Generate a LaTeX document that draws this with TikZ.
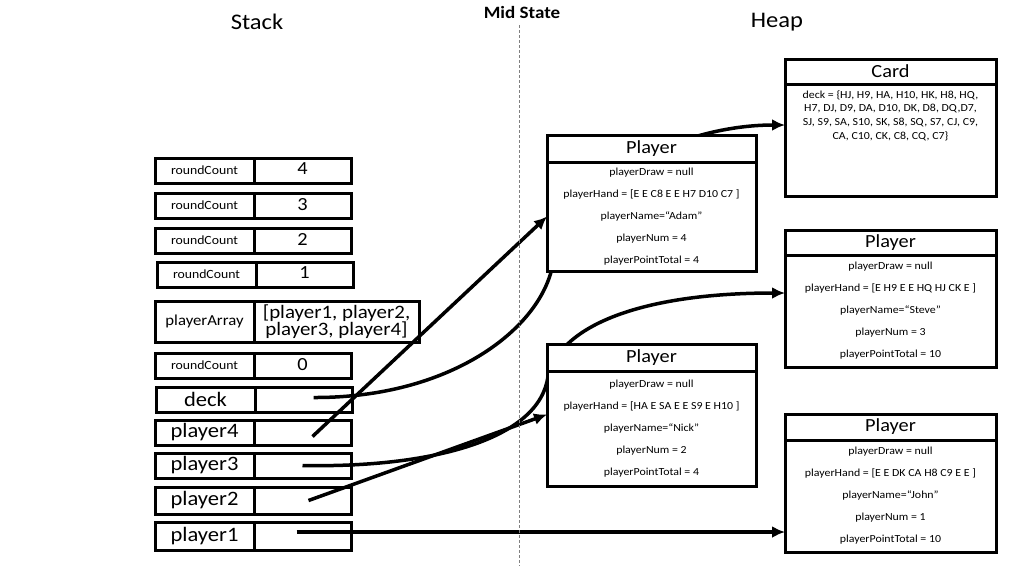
\documentclass[tikz,border=0pt]{standalone}
\usepackage{fontspec}
\setmainfont{Carlito}[FakeStretch=1.1]
\usepackage{tikz}
\usetikzlibrary{arrows.meta}
\tikzset{>={Latex[length=13pt,width=12pt]}}
\pgfdeclarelayer{stacklayer}
\pgfdeclarelayer{wirelayer}
\pgfsetlayers{stacklayer,wirelayer,main}
\tikzset{
  cell/.style={draw, line width=3pt, fill=white, anchor=north west, outer sep=0pt, minimum width=99pt, minimum height=25pt, inner sep=0pt},
  valcell/.style={cell, anchor=west, minimum width=97pt},
  small/.style={font=\fontsize{12.5}{14}\selectfont},
  big/.style={font=\fontsize{20.5}{21}\selectfont},
  num/.style={font=\fontsize{18.5}{19}\selectfont},
  classhead/.style={draw, line width=3pt, fill=white, anchor=north west, outer sep=0pt, minimum width=209pt, inner sep=0pt, font=\fontsize{18.5}{19}\selectfont},
  classbody/.style={draw, line width=3pt, fill=white, anchor=north west, outer sep=0pt, minimum width=209pt, inner sep=0pt, align=center, font=\fontsize{10.8}{22}\selectfont},
  ptr/.style={->, line width=3.5pt},
  title/.style={font=\fontsize{22.3}{23}\selectfont},
}

\begin{document}
\begin{tikzpicture}[x=1pt, y=-1pt]
  \useasboundingbox (0,0) rectangle (1014,566);
  \node[title] (stackT) at (257,22) {Stack};
  \node[font=\fontsize{17.3}{18}\selectfont\bfseries] (midT) at (522,12) {Mid State};
  \node[title] (heapT) at (777,22) {Heap};
  \draw[gray, densely dashed, line width=0.8pt] (519,25) -- (519,566);

  % stack frames
  \begin{pgfonlayer}{stacklayer}
  \node[cell, small] (rc4) at (155,158) {roundCount};
  \node[valcell, num] (rc4v) at (rc4.east) {\raisebox{3pt}{4}};
  \node[cell, small] (rc3) at (155,193) {roundCount};
  \node[valcell, num] (rc3v) at (rc3.east) {\raisebox{3pt}{3}};
  \node[cell, small] (rc2) at (155,228) {roundCount};
  \node[valcell, num] (rc2v) at (rc2.east) {\raisebox{3pt}{2}};
  \node[cell, small] (rc1) at (157,262) {roundCount};
  \node[valcell, num] (rc1v) at (rc1.east) {\raisebox{3pt}{1}};
  \node[cell, minimum width=99pt, minimum height=41pt, font=\fontsize{15.2}{16}\selectfont] (arr) at (155,301) {playerArray};
  \node[valcell, minimum width=165pt, minimum height=41pt, align=center, font=\fontsize{19}{17}\selectfont] (arrv) at (arr.east) {[player1, player2,\\ player3, player4]};
  \node[cell, small] (rc0) at (155,353) {roundCount};
  \node[valcell, num] (rc0v) at (rc0.east) {\raisebox{3pt}{0}};
  \node[cell, big] (deck) at (156,387) {deck};
  \node[valcell] (deckv) at (deck.east) {};
  \node[cell, big] (p4) at (155,420) {player4};
  \node[valcell] (p4v) at (p4.east) {};
  \node[cell, big] (p3) at (155,453) {player3};
  \node[valcell] (p3v) at (p3.east) {};
  \node[cell, big, minimum height=27pt] (p2) at (155,487) {player2};
  \node[valcell, minimum height=27pt] (p2v) at (p2.east) {};
  \node[cell, big, minimum height=28pt] (p1) at (155,522) {player1};
  \node[valcell, minimum height=28pt] (p1v) at (p1.east) {};
  \end{pgfonlayer}

  % heap objects
  \node[classhead, minimum height=27pt] (adamT) at (547,135) {Player};
  \node[classbody, minimum height=109pt] (adam) at (adamT.south west) {playerDraw = null\\ playerHand = [E E C8 E E H7 D10 C7 ]\\ playerName=“Adam”\\ playerNum = 4\\ playerPointTotal = 4};
  \node[classhead, minimum height=27pt] (nickT) at (547,344) {Player};
  \node[classbody, minimum height=115pt] (nick) at (nickT.south west) {playerDraw = null\\ playerHand = [HA E SA E E S9 E H10 ]\\ playerName=“Nick”\\ playerNum = 2\\ playerPointTotal = 4};
  \node[classhead, minimum width=211pt, minimum height=25pt] (cardT) at (785,59) {Card};
  \node[classbody, minimum width=211pt, minimum height=112pt] (card) at (cardT.south west) {};
  \node[anchor=north, align=center, inner sep=0pt, font=\fontsize{10.8}{13.7}\selectfont] (cardtxt) at ([yshift=-6pt]card.north) {deck = \{HJ, H9, HA, H10, HK, H8, HQ,\\ H7, DJ, D9, DA, D10, DK, D8, DQ,D7,\\ SJ, S9, SA, S10, SK, S8, SQ, S7, CJ, C9,\\ CA, C10, CK, C8, CQ, C7\}};
  \node[classhead, minimum width=211pt, minimum height=25pt] (steveT) at (785,230) {Player};
  \node[classbody, minimum width=211pt, minimum height=112pt] (steve) at (steveT.south west) {playerDraw = null\\ playerHand = [E H9 E E HQ HJ CK E ]\\ playerName=“Steve”\\ playerNum = 3\\ playerPointTotal = 10};
  \node[classhead, minimum width=211pt, minimum height=26pt] (johnT) at (785,414) {Player};
  \node[classbody, minimum width=211pt, minimum height=112pt] (john) at (johnT.south west) {playerDraw = null\\ playerHand = [E E DK CA H8 C9 E E ]\\ playerName=“John”\\ playerNum = 1\\ playerPointTotal = 10};

  % references
  \begin{pgfonlayer}{wirelayer}
  \draw[ptr] ([xshift=10pt,yshift=-4pt]p4v.center) -- (adam.west);
  \draw[ptr] ([xshift=10pt,yshift=2pt]deckv.center) .. controls (450,398) and (538,330) .. (552,268) .. controls (575,170) and (690,125) .. ([yshift=15pt]card.west);
  \draw[ptr] (p3v.center) .. controls (430,468) and (540,440) .. (548,376) .. controls (562,322) and (650,293) .. ([yshift=18pt]steve.west);
  \draw[ptr] ([xshift=6pt]p2v.center) -- ([yshift=14pt]nick.west);
  \draw[ptr] ([xshift=-6pt,yshift=4pt]p1v.center) -- ([yshift=4pt]p1v.center -| john.west);
  \end{pgfonlayer}
\end{tikzpicture}
\end{document}
